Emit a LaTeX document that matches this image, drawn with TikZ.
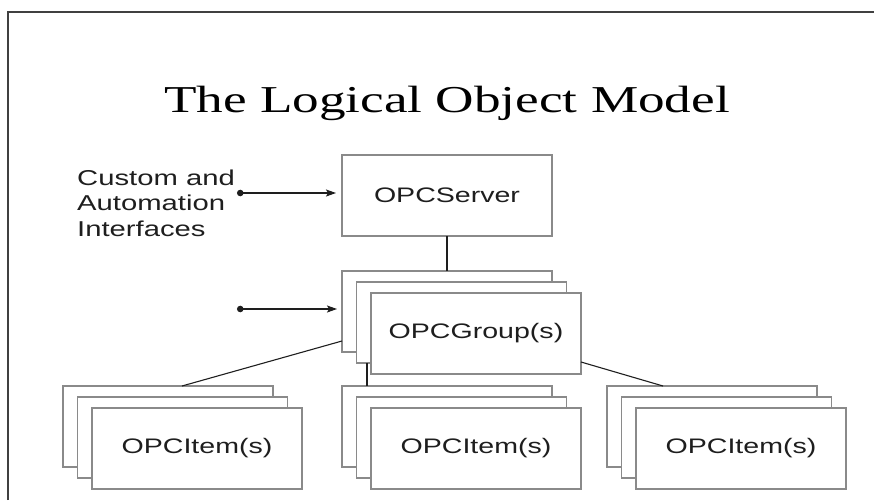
\documentclass[tikz,border=0pt]{standalone}
\usepackage{fontspec}
\usetikzlibrary{arrows.meta,calc}
\newfontfamily\labfont[FakeStretch=1.36]{Liberation Sans}
\newfontfamily\titlefont[FakeStretch=1.4]{Liberation Serif}
\definecolor{boxline}{HTML}{8A8A8A}
\definecolor{ink}{HTML}{1E1E1E}
\tikzset{
  card/.style={draw=boxline, line width=1.2pt, fill=white, rectangle, anchor=north west,
    minimum width=210pt, minimum height=81pt, inner sep=0pt, outer sep=0pt},
  lab/.style={font=\labfont\fontsize{21}{25}\selectfont, text=ink, inner sep=0pt},
  conn/.style={draw=ink, line width=1.1pt},
  dotarrow/.style={draw=ink, line width=1.2pt, {Circle[length=6.5pt]}-{Stealth[length=10pt,width=7pt,inset=2pt]}},
  frame/.style={draw=ink!85, line width=1.5pt}
}
\begin{document}
\begin{tikzpicture}[x=1pt,y=-1pt]
\useasboundingbox (0,0) rectangle (874,500);
% frame
\draw[frame] (8,500) -- (8,12) -- (874,12);
% title
\node[font=\titlefont\fontsize{38}{44}\selectfont, text=black, anchor=base, inner sep=0pt] (title) at (447,112) {The Logical Object Model};
% server
\node[card] (srv) at (342,155) {};
\node[lab] (srvt) at (srv.center) {OPCServer};
% group stack
\node[card] (grpA) at (342,271) {};
\node[card] (grpB) at (356.5,282) {};
\node[card] (grpC) at (371,293) {};
\node[lab] (grpt) at (grpC.center) {OPCGroup(s)};
% item stacks
\foreach \n/\x in {L/63, C/342, R/607}{
  \node[card] (item\n1) at (\x,386) {};
  \node[card] (item\n2) at (\x+14.5,397) {};
  \node[card] (item\n3) at (\x+29,408) {};
  \node[lab] (item\n t) at (item\n3.center) {OPCItem(s)};
}
% label
\node[lab, font=\labfont\fontsize{21.5}{25.5}\selectfont, align=left, anchor=base west] (iface) at (77,236) {Custom and\\Automation\\Interfaces};
% arrows
\coordinate (d1) at (237,193);
\coordinate (d2) at (237,309);
\draw[dotarrow, shorten >=6pt] (d1) -- (srv.west |- d1);
\draw[dotarrow, shorten >=5pt] (d2) -- (grpA.west |- d2);
% connectors
\draw[conn] (srv.south) -- (grpA.north);
\draw[conn] ([xshift=10.5pt]grpB.south west) -- ([xshift=25pt]itemC1.north west);
\draw[conn] ([xshift=119pt]itemL1.north west) -- ([yshift=11pt]grpA.south west);
\draw[conn] ([yshift=12pt]grpC.south east) -- ([xshift=56pt]itemR1.north west);
\end{tikzpicture}
\end{document}
